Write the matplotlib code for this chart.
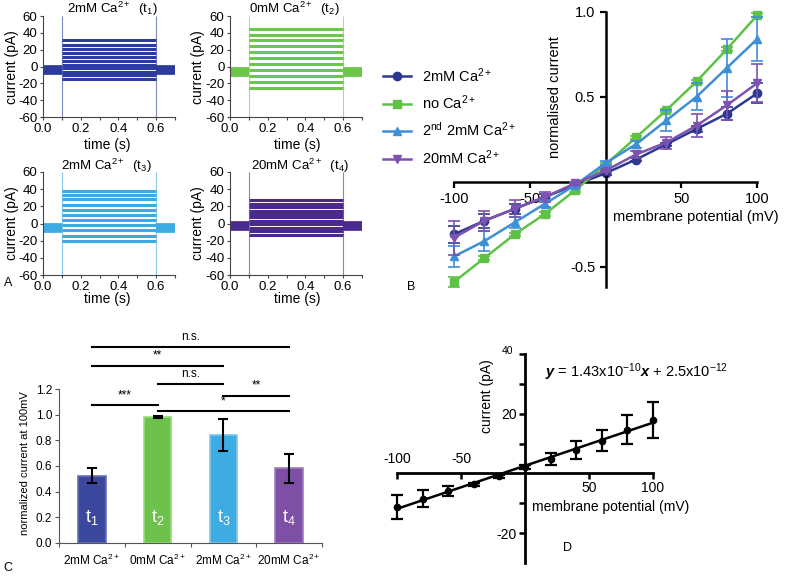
import matplotlib
matplotlib.use("Agg")
import matplotlib.pyplot as plt
import numpy as np

plt.rcParams["font.family"] = ["Liberation Sans", "DejaVu Sans"]
plt.rcParams["mathtext.fontset"] = "custom"
plt.rcParams["mathtext.rm"] = "Liberation Sans"
plt.rcParams["mathtext.it"] = "Liberation Sans:italic"
plt.rcParams["mathtext.bf"] = "Liberation Sans:bold:italic"
plt.rcParams["axes.unicode_minus"] = False

NARROW = ["Liberation Sans Narrow", "Liberation Sans", "DejaVu Sans"]

# ---- panel A: current traces (one level per voltage sweep, pA)
trace_titles = [r"2mM Ca$^{2+}$  (t$_1$)", r"0mM Ca$^{2+}$  (t$_2$)",
                r"2mM Ca$^{2+}$  (t$_3$)", r"20mM Ca$^{2+}$  (t$_4$)"]
sweep_levels = [
    [-15, -10, -6, -2, 2, 6, 11, 16, 21, 26, 31],
    [-25, -18, -11, -4, 3, 10, 17, 24, 31, 38, 45],
    [-20, -14, -8, -2, 4, 10, 16, 22, 28, 33, 38],
    [-13, -9, -5, -1, 3, 7, 11, 15, 19, 23, 27],
]
holding_current = [-4, -6, -5, -3]
trace_colors = ["#2d3c9c", "#6cc64a", "#3eaae2", "#4a2a8e"]
pulse_on, pulse_off, sweep_end = 0.1, 0.6, 0.7

# ---- panel B: normalised I-V curves
voltages = [-100, -80, -60, -40, -20, 0, 20, 40, 60, 80, 100]
iv_names = [r"2mM Ca$^{2+}$", r"no Ca$^{2+}$", r"2$^{\mathrm{nd}}$ 2mM Ca$^{2+}$", r"20mM Ca$^{2+}$"]
iv_2mM = [-0.31, -0.23, -0.16, -0.09, -0.02, 0.05, 0.13, 0.22, 0.31, 0.40, 0.52]
iv_2mM_err = [0.05, 0.04, 0.03, 0.02, 0.01, 0.01, 0.01, 0.01, 0.02, 0.04, 0.06]
iv_noCa = [-0.59, -0.45, -0.31, -0.19, -0.05, 0.10, 0.26, 0.42, 0.59, 0.78, 0.98]
iv_noCa_err = [0.03, 0.01, 0.01, 0.01, 0.01, 0.01, 0.01, 0.01, 0.01, 0.01, 0.01]
iv_2nd = [-0.44, -0.35, -0.24, -0.13, -0.02, 0.11, 0.22, 0.36, 0.50, 0.67, 0.84]
iv_2nd_err = [0.06, 0.06, 0.03, 0.02, 0.01, 0.01, 0.02, 0.06, 0.08, 0.17, 0.13]
iv_20mM = [-0.33, -0.23, -0.16, -0.09, -0.01, 0.065, 0.16, 0.23, 0.33, 0.45, 0.58]
iv_20mM_err = [0.10, 0.06, 0.05, 0.03, 0.01, 0.01, 0.02, 0.035, 0.07, 0.085, 0.11]
iv_colors = ["#2b3990", "#5ec247", "#3d8fd8", "#7d52b0"]
iv_markers = ["o", "s", "^", "v"]

# ---- panel C: normalised current at 100 mV
bar_labels = [r"2mM Ca$^{2+}$", r"0mM Ca$^{2+}$", r"2mM Ca$^{2+}$", r"20mM Ca$^{2+}$"]
bar_tags = [r"t$_1$", r"t$_2$", r"t$_3$", r"t$_4$"]
bar_values = [0.525, 0.985, 0.843, 0.582]
bar_err = [0.06, 0.008, 0.125, 0.112]
bar_colors = ["#3c489e", "#6cc24a", "#3cace3", "#7d4fa5"]
bar_edges = ["#6470b8", "#97dc7a", "#7cc8ee", "#a07cc0"]
sig_tests = [(0, 3, 1.534, "n.s."), (0, 2, 1.385, "**"), (1, 2, 1.242, "n.s."),
             (2, 3, 1.150, "**"), (0, 1, 1.077, "***"), (1, 3, 1.031, "*")]

# ---- panel D: raw I-V with linear fit
d_current = [-11.3, -8.4, -5.9, -3.6, -0.9, 2.1, 4.9, 7.9, 11.0, 14.6, 17.9]
d_err = [4.0, 3.0, 1.8, 0.5, 0.5, 0.6, 2.0, 3.1, 3.6, 4.9, 6.0]

W, H = 800, 577
fig = plt.figure(figsize=(8, 5.77), dpi=100)


def box(x0, y0, x1, y1):
    return [x0 / W, 1 - y1 / H, (x1 - x0) / W, (y1 - y0) / H]


def label(x, y, s, **kw):
    kw.setdefault("ha", "center")
    kw.setdefault("va", "center")
    fig.text(x / W, 1 - y / H, s, **kw)


# ---------------- A
a_boxes = [(43, 16, 175, 117), (230, 16, 362, 117), (43, 172, 175, 275), (230, 172, 362, 275)]
a_title_pos = [(112, 9), (294, 9), (106, 166), (300, 166)]
a_xlab_pos = [(107, 145), (297, 145), (107, 299), (297, 299)]
a_ylab_pos = [(12, 67), (198, 67), (12, 223), (198, 223)]
for k in range(4):
    ax = fig.add_axes(box(*a_boxes[k]))
    c = trace_colors[k]
    h = holding_current[k]
    ax.vlines([pulse_on, pulse_off], -60, 60, color=c, lw=0.8, alpha=0.6)
    ax.plot([0, pulse_on], [h, h], color=c, lw=7, solid_capstyle="butt")
    ax.plot([pulse_off, sweep_end], [h, h], color=c, lw=7, solid_capstyle="butt")
    for lev in sweep_levels[k]:
        ax.plot([pulse_on, pulse_off], [lev, lev], color=c, lw=2.2, solid_capstyle="butt")
    ax.set_xlim(0, 0.7)
    ax.set_ylim(-60, 60)
    ax.set_xticks([0, 0.2, 0.4, 0.6])
    ax.set_xticks([0.1, 0.3, 0.5, 0.7], minor=True)
    ax.set_yticks(range(-60, 61, 20))
    ax.set_xticklabels(["0.0", "0.2", "0.4", "0.6"])
    for s in ["top", "right"]:
        ax.spines[s].set_visible(False)
    for s in ["left", "bottom"]:
        ax.spines[s].set_color("#444444")
        ax.spines[s].set_linewidth(0.8)
    ax.tick_params(which="both", length=2.5, width=0.8, color="#444444", pad=1.5)
    for t in ax.get_xticklabels() + ax.get_yticklabels():
        t.set_family(NARROW)
        t.set_fontsize(9.5)
    label(*a_title_pos[k], trace_titles[k], fontsize=9.5, family=NARROW)
    label(*a_xlab_pos[k], "time (s)", fontsize=10, family=NARROW)
    label(*a_ylab_pos[k], "current (pA)", fontsize=10, family=NARROW, rotation=90)

label(8, 283, "A", fontsize=9)

# ---------------- B
axb = fig.add_axes(box(454, 11.7, 757.3, 287))
iv_sets = [(iv_2mM, iv_2mM_err), (iv_noCa, iv_noCa_err), (iv_2nd, iv_2nd_err), (iv_20mM, iv_20mM_err)]
handles = []
for k, (vals, errs) in enumerate(iv_sets):
    axb.errorbar(voltages, vals, yerr=errs, fmt="none", ecolor=iv_colors[k],
                 elinewidth=1.2, capsize=4, capthick=1.2, zorder=2 + k, clip_on=False)
    ln, = axb.plot(voltages, vals, color=iv_colors[k], lw=1.8, marker=iv_markers[k],
                   markersize=6, label=iv_names[k], zorder=2 + k, clip_on=False)
    handles.append(ln)
axb.set_xlim(-100, 100)
axb.set_ylim(-0.62, 1.0)
axb.spines["left"].set_position(("data", 0))
axb.spines["bottom"].set_position(("data", 0))
axb.spines["top"].set_visible(False)
axb.spines["right"].set_visible(False)
for s in ["left", "bottom"]:
    axb.spines[s].set_linewidth(1.8)
axb.set_xticks([-100, -50, 50, 100])
axb.set_yticks([-0.5, 0.5, 1.0])
axb.tick_params(length=4.5, width=1.6, labelsize=10.5, pad=3)
axb.set_yticklabels(["-0.5", "0.5", "1.0"])
label(555, 97, "normalised current", fontsize=10.5, rotation=90)
label(613, 217, "membrane potential (mV)", fontsize=10.5, ha="left")
fig.legend(handles=handles, loc="upper left", bbox_to_anchor=(383 / W, 1 - 66 / H),
           frameon=False, fontsize=10.5, handlelength=1.9, handletextpad=0.8,
           labelspacing=0.62, borderaxespad=0, borderpad=0)
label(411, 287, "B", fontsize=9)

# ---------------- C
axc = fig.add_axes(box(59, 389.3, 322, 542.7))
xc = np.arange(len(bar_values))
axc.bar(xc, bar_values, width=0.42, color=bar_colors, edgecolor=bar_edges, linewidth=1.2, zorder=2)
axc.errorbar(xc, bar_values, yerr=bar_err, fmt="none", ecolor="black", elinewidth=1.5,
             capsize=3.5, capthick=1.5, zorder=3)
for k in range(len(bar_values)):
    axc.text(xc[k], 0.2, bar_tags[k], color="white", fontsize=13, ha="center", va="center",
             family=NARROW, zorder=4)
for i, j, lvl, txt in sig_tests:
    axc.plot([i, j], [lvl, lvl], color="black", lw=1.5, clip_on=False)
    axc.text((i + j) / 2, lvl + 0.03, txt, ha="center", va="bottom", fontsize=8.5,
             family=NARROW)
axc.set_xlim(-0.5, 3.5)
axc.set_ylim(0, 1.2)
axc.set_yticks(np.arange(0, 1.21, 0.2))
axc.set_yticklabels([f"{v:.1f}" for v in np.arange(0, 1.21, 0.2)])
axc.set_xticks(xc)
axc.set_xticklabels(bar_labels)
axc.set_xticks([-0.5, 0.5, 1.5, 2.5, 3.5], minor=True)
axc.tick_params(axis="x", which="major", length=0, pad=7)
axc.tick_params(axis="x", which="minor", length=3, width=0.8, color="#555555")
axc.tick_params(axis="y", length=3, width=0.8, color="#555555", pad=2)
for s in ["top", "right"]:
    axc.spines[s].set_visible(False)
for s in ["left", "bottom"]:
    axc.spines[s].set_color("#555555")
    axc.spines[s].set_linewidth(0.8)
for t in axc.get_xticklabels():
    t.set_family(NARROW)
    t.set_fontsize(8.5)
for t in axc.get_yticklabels():
    t.set_family(NARROW)
    t.set_fontsize(8.5)
label(25, 463, "normalized current at 100mV", fontsize=8, family=NARROW, rotation=90)
label(8, 568, "C", fontsize=9)

# ---------------- D
axd = fig.add_axes(box(397, 354, 653, 563))
slope, icpt = np.polyfit(voltages, d_current, 1)
vfit = np.array([voltages[0], voltages[-1]])
axd.plot(vfit, slope * vfit + icpt, color="black", lw=1.8, zorder=2)
axd.errorbar(voltages, d_current, yerr=d_err, fmt="o", color="black", markersize=4.5,
             elinewidth=1.6, capsize=4, capthick=1.6, zorder=3, clip_on=False)
axd.set_xlim(-100, 100)
axd.set_ylim(-30, 40)
axd.spines["left"].set_position(("data", 0))
axd.spines["bottom"].set_position(("data", 0))
axd.spines["top"].set_visible(False)
axd.spines["right"].set_visible(False)
for s in ["left", "bottom"]:
    axd.spines[s].set_linewidth(2)
axd.set_xticks([-100, -50, 50, 100])
axd.set_xticklabels([])
axd.set_yticks([-20, -10, 10, 20, 30, 40])
axd.set_yticklabels(["-20", "", "", "20", "", ""])
axd.tick_params(length=4, width=1.8, labelsize=10, pad=2)
for v in [-100, -50]:
    axd.text(v, 4.7, f"{v}", ha="center", va="center", fontsize=10)
for v in [50, 100]:
    axd.text(v, -4.8, f"{v}", ha="center", va="center", fontsize=10)
axd.text(-9, 41, "40", ha="right", va="center", fontsize=7.5)
label(487, 396, "current (pA)", fontsize=10, rotation=90)
label(532, 507, "membrane potential (mV)", fontsize=10, ha="left")
label(545, 372, r"$\mathbf{y}$ = 1.43x10$^{-10}$$\mathbf{x}$ + 2.5x10$^{-12}$", fontsize=10.5, ha="left")
label(567, 548, "D", fontsize=9)

fig.savefig("out.png", dpi=100)
